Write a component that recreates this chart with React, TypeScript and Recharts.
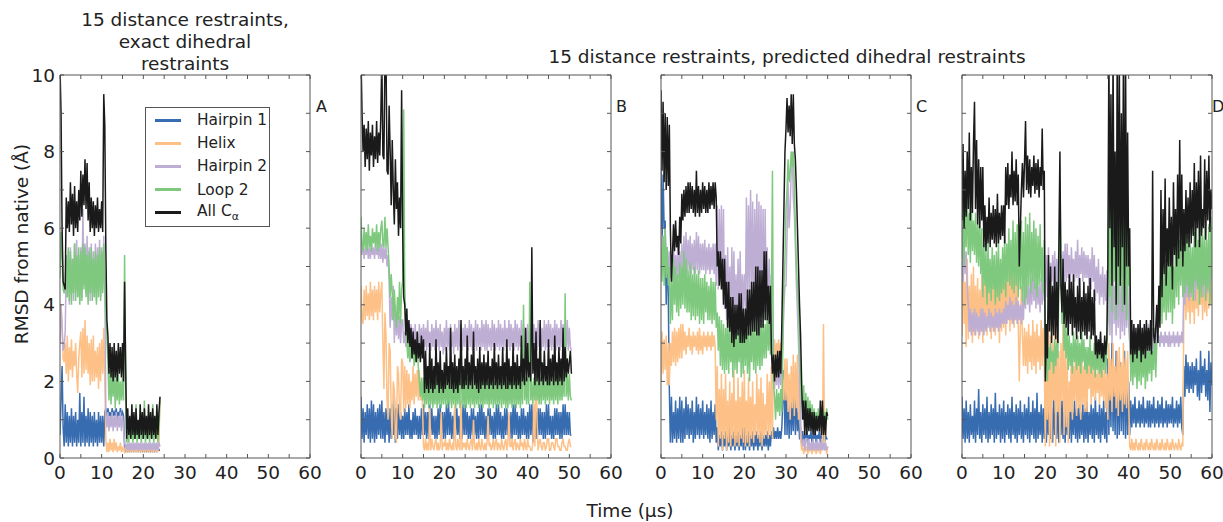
import { Line, LineChart, XAxis, YAxis } from "recharts";

// sampling interval of the traces, in µs
const STEP_US = 0.25;

const X_TICKS = [0, 5, 10, 15, 20, 25, 30, 35, 40, 45, 50, 55, 60];
const Y_TICKS = [0, 1, 2, 3, 4, 5, 6, 7, 8, 9, 10];

const SERIES = [
  { key: "hairpin1", name: "Hairpin 1", color: "#386cb0" },
  { key: "helix", name: "Helix", color: "#fdc086" },
  { key: "hairpin2", name: "Hairpin 2", color: "#beaed4" },
  { key: "loop2", name: "Loop 2", color: "#7fc97f" },
  { key: "all", name: "All C", color: "#1a1a1a" },
];

// ---- panel A: exact dihedral restraints (0–24 µs), one row = 5 µs
const A_HAIRPIN1 = [
  0.6, 1.5, 2.4, 0.8, 0.3, 1.4, 0.4, 1.2, 0.3, 1.1, 0.4, 1.3, 0.3, 1.1, 0.4, 1.2, 0.3, 1.0, 0.4, 1.7,
  0.3, 1.2, 0.4, 1.6, 0.3, 1.1, 0.4, 1.3, 0.3, 1.2, 0.4, 1.1, 0.3, 1.2, 0.4, 1.0, 0.3, 1.2, 0.4, 1.1,
  0.4, 1.1, 0.3, 1.2, 1.3, 1.0, 1.3, 1.1, 1.2, 1.0, 1.3, 1.1, 1.2, 1.1, 1.3, 1.0, 1.2, 1.1, 1.3, 1.1,
  1.2, 1.1, 0.3, 0.2, 0.3, 0.2, 0.3, 0.2, 0.3, 0.2, 0.3, 0.2, 0.3, 0.2, 0.3, 0.2, 0.3, 0.2, 0.3, 0.2,
  0.3, 0.2, 0.3, 0.2, 0.3, 0.2, 0.3, 0.2, 0.3, 0.2, 0.3, 0.2, 0.3, 0.2, 0.3, 0.2, 0.2,
];
const A_HELIX = [
  3.3, 4.0, 3.5, 2.6, 2.5, 3.0, 2.2, 3.2, 2.0, 2.9, 2.3, 3.1, 2.1, 2.8, 2.4, 3.0, 2.2, 1.7, 2.6, 3.0,
  3.3, 2.1, 3.4, 2.2, 3.6, 2.3, 3.2, 2.2, 3.0, 1.9, 3.1, 2.0, 3.2, 2.0, 2.8, 2.1, 2.9, 1.8, 3.0, 2.0,
  3.1, 2.2, 3.4, 2.0, 0.5, 0.15, 0.4, 0.15, 0.5, 0.2, 0.4, 0.15, 0.5, 0.2, 0.4, 0.15, 0.3, 0.2, 0.4, 0.15,
  0.3, 0.2, 0.15, 0.35, 0.15, 0.3, 0.15, 0.35, 0.15, 0.3, 0.15, 0.35, 0.15, 0.3, 0.15, 0.35, 0.15, 0.3, 0.15, 0.35,
  0.15, 0.3, 0.15, 0.35, 0.15, 0.3, 0.15, 0.35, 0.15, 0.3, 0.15, 0.35, 0.15, 0.3, 0.15, 0.35, 1.6,
];
const A_HAIRPIN2 = [
  3.0, 4.0, 3.4, 2.8, 2.9, 3.3, 5.0, 4.2, 5.4, 4.0, 5.5, 4.3, 5.2, 4.1, 5.6, 4.4, 5.7, 4.2, 5.3, 4.1,
  5.5, 4.2, 6.5, 4.5, 5.6, 4.3, 5.8, 4.2, 5.5, 4.1, 5.6, 4.3, 5.4, 4.2, 5.6, 4.1, 5.5, 4.4, 5.7, 4.2,
  5.5, 4.4, 5.8, 4.6, 1.2, 0.8, 1.2, 0.7, 1.1, 0.8, 1.2, 0.7, 1.1, 0.8, 1.2, 0.7, 1.1, 0.8, 1.2, 0.7,
  1.1, 0.8, 0.4, 0.3, 0.2, 0.4, 0.2, 0.4, 0.2, 0.4, 0.2, 0.4, 0.2, 0.4, 0.2, 0.4, 0.2, 0.4, 0.2, 0.4,
  0.2, 0.4, 0.2, 0.4, 0.2, 0.4, 0.2, 0.4, 0.2, 0.4, 0.2, 0.4, 0.2, 0.4, 0.2, 0.4, 0.3,
];
const A_LOOP2 = [
  4.7, 5.9, 5.2, 4.4, 4.3, 4.5, 5.3, 4.2, 5.5, 4.1, 5.4, 4.0, 5.2, 4.3, 5.6, 4.1, 5.3, 4.2, 5.5, 4.0,
  5.4, 4.1, 5.6, 4.4, 5.5, 4.2, 5.3, 4.0, 5.4, 4.3, 5.5, 4.1, 5.2, 4.2, 5.4, 4.0, 5.3, 4.2, 5.5, 4.1,
  5.4, 4.3, 5.6, 4.4, 3.6, 3.2, 2.5, 1.5, 2.3, 1.4, 2.2, 1.6, 2.3, 1.3, 2.1, 1.5, 2.2, 1.4, 2.0, 1.5,
  2.1, 1.5, 5.3, 2.0, 0.4, 0.7, 0.4, 0.8, 0.5, 1.0, 0.4, 0.7, 0.5, 1.4, 0.4, 0.8, 0.5, 0.9, 0.4, 0.7,
  0.5, 1.5, 0.4, 0.8, 0.5, 1.0, 0.4, 0.9, 0.5, 1.4, 0.4, 0.8, 0.5, 1.2, 0.4, 0.8, 1.5,
];
const A_ALL = [
  10.2, 9.0, 6.0, 4.6, 4.5, 4.4, 6.8, 6.0, 6.7, 5.9, 7.2, 6.1, 6.9, 5.8, 7.1, 6.0, 6.7, 5.9, 7.0, 6.2,
  7.5, 6.3, 7.4, 6.6, 7.8, 6.5, 7.7, 6.2, 7.2, 5.9, 6.8, 6.0, 6.7, 5.8, 6.6, 6.0, 6.8, 5.9, 6.5, 6.0,
  6.7, 5.9, 9.5, 8.7, 5.5, 3.6, 3.2, 2.2, 3.0, 2.1, 2.9, 2.0, 3.0, 2.1, 2.8, 2.0, 3.0, 2.2, 2.9, 2.1,
  3.0, 2.0, 4.6, 2.5, 0.5, 1.3, 0.6, 1.1, 0.5, 1.4, 0.6, 1.2, 0.5, 1.3, 0.6, 1.0, 0.5, 1.4, 0.6, 1.2,
  0.5, 1.3, 0.6, 1.1, 0.5, 1.4, 0.6, 1.2, 0.5, 1.3, 0.6, 1.1, 0.5, 1.4, 0.6, 1.2, 1.6,
];

// ---- panel B (0–50.5 µs)
const B_HAIRPIN1 = [
  1.6, 0.5, 1.3, 0.4, 1.2, 0.6, 1.4, 0.5, 1.3, 0.4, 1.5, 0.5, 1.4, 0.4, 1.2, 0.5, 1.3, 0.6, 1.4, 0.5,
  1.5, 0.5, 1.2, 0.4, 1.3, 0.6, 1.2, 0.4, 1.3, 0.5, 1.4, 0.6, 1.6, 0.4, 1.3, 0.5, 1.4, 0.6, 1.2, 0.5,
  1.1, 0.5, 1.3, 0.6, 1.2, 0.6, 1.4, 0.5, 1.0, 0.5, 1.2, 0.6, 1.3, 0.6, 1.1, 0.5, 1.1, 0.5, 1.3, 0.6,
  1.4, 0.6, 1.2, 0.5, 1.2, 0.5, 1.4, 0.6, 1.3, 0.6, 1.1, 0.5, 1.1, 0.5, 1.3, 0.6, 1.4, 0.6, 1.2, 0.5,
  1.2, 0.5, 1.4, 0.6, 1.5, 0.6, 1.2, 0.5, 1.1, 0.5, 1.3, 0.6, 1.3, 0.6, 1.1, 0.5, 1.2, 0.5, 1.4, 0.6,
  1.4, 0.6, 1.2, 0.5, 1.1, 0.5, 1.3, 0.6, 1.3, 0.6, 1.1, 0.5, 1.2, 0.5, 1.4, 0.6, 1.4, 0.6, 1.2, 0.5,
  1.1, 0.5, 1.3, 0.6, 1.3, 0.6, 1.1, 0.5, 1.2, 0.5, 1.4, 0.6, 1.4, 0.6, 1.2, 0.5, 1.1, 0.5, 1.3, 0.6,
  1.3, 0.6, 1.1, 0.5, 1.2, 0.5, 1.4, 0.6, 1.4, 0.6, 1.2, 0.5, 1.1, 0.5, 1.3, 0.6, 1.3, 0.6, 1.1, 0.5,
  1.2, 0.5, 1.4, 0.6, 1.4, 0.4, 1.2, 0.5, 1.2, 0.5, 1.3, 0.6, 1.3, 0.6, 1.2, 0.5, 1.2, 0.5, 1.4, 0.6,
  1.4, 0.6, 1.1, 0.5, 1.1, 0.5, 1.3, 0.6, 1.3, 0.6, 1.2, 0.5, 1.2, 0.5, 1.4, 0.6, 1.4, 0.6, 1.2, 0.6,
  1.2, 0.6, 0.6,
];
const B_HELIX = [
  4.5, 3.6, 3.5, 4.4, 3.6, 4.5, 3.7, 4.3, 3.6, 4.6, 3.7, 4.4, 3.6, 4.5, 3.8, 4.4, 3.6, 4.6, 3.8, 4.3,
  4.6, 3.0, 1.8, 3.8, 3.2, 1.5, 1.0, 3.0, 2.8, 1.2, 0.5, 2.0, 1.8, 0.6, 0.4, 2.4, 2.2, 1.2, 1.0, 2.6,
  2.5, 1.2, 2.4, 1.3, 2.3, 1.4, 2.2, 1.3, 2.0, 1.5, 2.4, 1.4, 2.2, 1.6, 2.3, 1.5, 2.3, 1.5, 2.0, 1.4,
  0.3, 0.2, 0.5, 0.2, 0.4, 0.2, 1.3, 0.2, 0.5, 0.3, 0.2, 0.4, 0.5, 0.2, 0.4, 0.2, 0.3, 1.2, 0.2, 0.4,
  0.3, 0.5, 0.2, 0.4, 0.2, 0.5, 0.3, 0.2, 0.4, 0.2, 1.4, 0.3, 0.2, 0.5, 0.3, 0.2, 1.5, 0.2, 0.4, 0.3,
  0.4, 0.2, 0.5, 0.3, 0.2, 0.4, 0.5, 0.2, 1.0, 0.3, 0.2, 0.4, 0.2, 0.5, 0.3, 0.2, 0.5, 0.3, 0.2, 0.4,
  0.2, 0.4, 1.1, 0.3, 0.4, 0.2, 0.3, 0.5, 0.2, 0.4, 0.5, 0.2, 0.4, 0.3, 0.2, 0.5, 0.3, 0.2, 0.4, 0.5,
  0.2, 0.4, 1.2, 0.3, 0.3, 0.5, 0.2, 0.4, 0.5, 0.2, 0.4, 0.3, 0.2, 0.5, 0.3, 0.4, 0.2, 0.5, 0.3, 0.2,
  0.5, 0.3, 0.3, 0.2, 0.2, 0.4, 1.4, 0.3, 3.3, 1.0, 0.2, 0.4, 0.5, 0.3, 0.2, 0.4, 0.4, 0.2, 0.3, 0.5,
  0.5, 0.2, 0.2, 0.4, 0.4, 0.3, 0.2, 0.5, 0.5, 0.3, 0.3, 0.2, 0.2, 0.4, 0.5, 0.3, 0.3, 0.2, 0.2, 0.4,
  0.5, 0.3, 0.3,
];
const B_HAIRPIN2 = [
  5.8, 5.3, 5.6, 5.2, 5.5, 5.3, 5.6, 5.2, 5.5, 5.2, 5.6, 5.3, 5.5, 5.2, 5.6, 5.3, 5.5, 5.2, 5.6, 5.2,
  5.6, 5.1, 5.5, 5.2, 5.5, 5.0, 5.3, 4.6, 3.4, 4.2, 3.6, 4.5, 3.0, 4.0, 3.2, 3.8, 3.1, 3.7, 3.0, 3.6,
  3.6, 3.0, 3.3, 2.9, 3.5, 2.9, 3.4, 2.8, 3.5, 2.9, 3.4, 2.8, 3.5, 2.9, 3.3, 2.8, 3.5, 2.9, 3.4, 2.8,
  3.5, 2.9, 3.4, 2.8, 3.6, 2.9, 3.3, 2.8, 3.5, 2.9, 3.4, 2.8, 3.6, 2.9, 3.4, 2.8, 3.5, 2.9, 3.3, 2.7,
  3.4, 2.8, 3.6, 2.9, 3.4, 2.8, 3.5, 2.9, 3.3, 2.7, 3.5, 2.9, 3.4, 2.8, 3.6, 2.9, 3.5, 2.8, 3.4, 2.9,
  3.5, 2.9, 3.4, 2.8, 3.6, 2.9, 3.5, 2.8, 3.4, 2.9, 3.6, 2.8, 3.5, 2.9, 3.4, 2.8, 3.6, 2.9, 3.5, 2.8,
  3.6, 2.8, 3.5, 2.9, 3.4, 2.8, 3.6, 2.9, 3.5, 2.8, 3.4, 2.9, 3.6, 2.8, 3.5, 2.9, 3.4, 2.8, 3.6, 2.9,
  3.4, 2.9, 3.6, 2.8, 3.5, 2.9, 3.4, 2.8, 3.6, 2.9, 3.5, 2.8, 3.4, 2.9, 3.6, 2.8, 3.5, 2.9, 3.4, 2.8,
  3.5, 2.8, 3.4, 2.9, 3.6, 2.8, 3.5, 2.9, 3.4, 2.8, 3.6, 2.9, 3.5, 2.8, 3.4, 2.9, 3.6, 2.8, 3.5, 2.9,
  3.6, 2.9, 3.5, 2.8, 3.4, 2.9, 3.6, 2.8, 3.5, 2.9, 3.4, 2.8, 3.6, 2.9, 3.5, 2.8, 3.4, 2.9, 3.6, 2.8,
  3.4, 2.9, 2.8,
];
const B_LOOP2 = [
  6.3, 5.6, 5.4, 6.0, 5.5, 5.9, 5.4, 6.1, 5.5, 5.8, 5.4, 6.0, 5.6, 5.9, 5.5, 6.1, 5.4, 5.9, 5.5, 6.0,
  6.2, 5.6, 5.5, 6.3, 5.5, 6.0, 5.5, 5.0, 4.2, 4.8, 4.3, 3.6, 4.4, 3.8, 3.4, 4.2, 3.6, 4.6, 3.5, 4.4,
  4.6, 9.1, 4.5, 3.5, 3.0, 2.6, 3.0, 2.5, 2.9, 2.6, 3.0, 2.4, 2.9, 2.5, 2.8, 2.4, 2.0, 1.6, 2.1, 1.5,
  2.1, 1.3, 2.0, 1.4, 2.2, 1.3, 2.0, 1.4, 2.1, 1.3, 1.9, 1.4, 2.2, 1.3, 2.0, 1.4, 2.1, 1.3, 2.0, 1.4,
  2.0, 1.4, 2.1, 1.3, 1.9, 1.4, 2.2, 1.3, 2.0, 1.4, 2.1, 1.3, 2.0, 1.4, 2.2, 1.3, 3.5, 1.4, 2.0, 1.3,
  2.0, 1.3, 2.1, 1.4, 2.0, 1.3, 2.2, 1.4, 1.9, 1.3, 2.1, 1.4, 2.0, 1.3, 2.2, 1.4, 2.0, 1.3, 2.1, 1.4,
  2.1, 1.4, 2.0, 1.3, 2.1, 1.4, 2.2, 1.3, 2.0, 1.4, 2.1, 1.3, 2.0, 1.4, 2.2, 1.3, 2.1, 1.4, 2.0, 1.3,
  2.0, 1.3, 2.1, 1.4, 2.0, 1.3, 2.2, 1.4, 2.0, 1.3, 2.1, 1.4, 2.0, 1.3, 2.2, 1.4, 4.0, 1.5, 2.1, 1.4,
  2.1, 1.4, 4.6, 1.5, 2.0, 1.4, 2.1, 1.5, 2.2, 1.5, 2.0, 1.4, 2.1, 1.4, 2.2, 1.5, 2.0, 1.4, 2.1, 1.5,
  2.2, 1.4, 2.1, 1.5, 2.0, 1.4, 2.2, 1.5, 2.1, 1.4, 2.3, 1.5, 2.0, 1.5, 2.2, 1.6, 4.3, 1.6, 2.2, 1.5,
  2.2, 1.6, 1.5,
];
const B_ALL = [
  10.5, 9.0, 8.0, 8.7, 7.6, 8.6, 7.8, 8.8, 7.5, 8.5, 7.9, 8.7, 7.6, 8.4, 7.8, 8.8, 7.7, 8.5, 7.9, 8.9,
  10.5, 7.9, 7.8, 10.5, 10.5, 7.5, 7.4, 9.2, 8.0, 6.6, 8.3, 7.0, 6.1, 7.8, 6.5, 7.2, 5.8, 6.8, 6.0, 9.6,
  6.0, 4.2, 4.0, 3.2, 3.9, 3.0, 3.6, 2.9, 3.4, 2.6, 3.3, 2.7, 3.1, 2.5, 3.3, 2.6, 3.0, 2.5, 3.2, 2.6,
  3.1, 1.7, 2.8, 1.8, 2.4, 1.7, 3.0, 1.8, 2.6, 1.7, 2.4, 1.8, 3.1, 1.9, 2.5, 1.7, 2.8, 1.8, 2.3, 1.7,
  2.5, 1.8, 2.9, 1.9, 2.4, 1.8, 3.4, 1.8, 2.5, 1.7, 2.7, 1.8, 2.4, 1.7, 2.6, 1.9, 3.6, 1.8, 2.4, 1.8,
  2.6, 1.9, 3.2, 1.8, 2.5, 1.9, 2.7, 1.8, 3.3, 1.9, 2.4, 1.8, 2.6, 1.7, 2.9, 1.8, 2.5, 1.9, 2.7, 1.8,
  2.5, 1.9, 2.8, 1.8, 2.4, 1.9, 2.6, 1.8, 3.0, 1.9, 2.5, 1.8, 2.7, 1.9, 2.4, 1.8, 2.9, 1.9, 2.5, 1.8,
  3.1, 1.8, 2.6, 1.9, 2.4, 1.8, 3.0, 1.9, 2.5, 1.8, 2.7, 1.9, 2.4, 1.8, 3.2, 2.0, 2.6, 1.9, 3.4, 2.0,
  3.0, 2.1, 2.5, 2.0, 5.5, 2.2, 3.0, 1.9, 3.3, 2.0, 2.6, 1.9, 3.6, 2.0, 2.5, 1.9, 2.8, 2.0, 2.4, 1.9,
  3.1, 1.9, 2.6, 2.0, 2.7, 1.9, 3.2, 2.0, 2.5, 1.9, 2.9, 2.0, 2.6, 1.9, 3.4, 2.0, 2.9, 2.1, 2.6, 2.2,
  2.5, 2.8, 2.2,
];

// ---- panel C (0–40 µs)
const C_HAIRPIN1 = [
  7.6, 5.5, 7.4, 6.0, 6.2, 4.0, 5.5, 4.2, 1.8, 0.4, 1.6, 0.4, 1.2, 0.5, 1.5, 0.4, 1.3, 0.5, 1.6, 0.4,
  1.5, 0.4, 1.3, 0.5, 1.6, 0.6, 1.4, 0.5, 1.3, 0.6, 1.5, 0.4, 1.2, 0.5, 1.6, 0.6, 1.4, 0.5, 1.3, 0.6,
  1.5, 0.5, 1.2, 0.6, 1.4, 0.5, 1.3, 0.4, 1.5, 0.5, 1.2, 0.6, 1.4, 0.4, 0.8, 0.2, 0.6, 0.3, 0.7, 0.2,
  0.6, 0.3, 0.7, 0.2, 0.6, 0.3, 0.8, 0.2, 0.6, 0.3, 0.7, 0.2, 0.6, 0.3, 0.7, 0.2, 0.6, 0.3, 0.8, 0.2,
  0.8, 0.2, 0.6, 0.3, 0.7, 0.2, 0.6, 0.3, 0.7, 0.2, 0.6, 0.3, 0.7, 0.2, 0.6, 0.3, 0.7, 0.2, 0.6, 0.3,
  0.6, 0.3, 0.7, 0.2, 0.6, 0.3, 0.7, 0.5, 0.8, 0.5, 0.7, 0.5, 0.8, 0.5, 0.7, 0.5, 0.8, 1.5, 2.3, 0.6,
  2.3, 0.6, 1.8, 0.5, 2.0, 0.6, 1.5, 0.7, 2.1, 0.6, 1.6, 0.7, 1.2, 0.5, 0.5, 0.4, 0.7, 0.4, 0.6, 0.5,
  0.7, 0.4, 0.6, 0.5, 0.7, 0.4, 0.6, 0.5, 0.7, 0.4, 0.6, 0.5, 0.7, 0.4, 0.6, 0.5, 0.7, 0.4, 0.6, 0.5,
  0.5,
];
const C_HELIX = [
  2.0, 3.3, 2.2, 3.1, 2.3, 3.2, 1.9, 3.0, 1.9, 3.0, 2.4, 3.3, 2.5, 3.4, 2.4, 3.3, 2.5, 3.4, 2.6, 3.5,
  2.6, 3.5, 2.8, 3.3, 2.7, 3.2, 2.9, 3.4, 2.8, 3.2, 2.7, 3.3, 2.9, 3.2, 2.8, 3.3, 2.7, 3.4, 2.8, 3.2,
  2.7, 3.3, 2.9, 3.2, 2.8, 3.3, 2.9, 3.2, 2.8, 3.3, 2.9, 3.2, 2.9, 1.0, 2.4, 0.3, 1.8, 0.5, 2.2, 0.2,
  1.8, 0.5, 2.2, 0.2, 1.5, 0.4, 2.0, 0.3, 1.7, 0.5, 2.3, 0.3, 1.5, 0.4, 2.1, 0.3, 1.6, 0.5, 2.0, 0.4,
  2.3, 0.3, 1.5, 0.4, 2.1, 0.3, 1.6, 0.5, 2.0, 0.4, 1.4, 0.6, 2.2, 0.5, 1.8, 0.4, 2.1, 0.3, 1.7, 0.5,
  1.4, 0.6, 2.2, 0.5, 2.0, 0.6, 2.4, 0.5, 2.7, 3.1, 2.6, 3.0, 2.8, 3.1, 2.6, 3.0, 2.8, 2.0, 1.5, 2.6,
  1.5, 2.6, 1.2, 2.2, 1.0, 2.4, 1.3, 2.7, 1.1, 2.5, 1.3, 2.7, 1.0, 2.2, 0.5, 0.2, 0.3, 0.1, 0.3, 0.2,
  0.3, 0.1, 0.3, 0.2, 0.3, 0.1, 0.3, 0.2, 0.3, 0.1, 0.3, 0.2, 0.3, 0.1, 0.3, 0.2, 3.5, 0.2, 0.3, 0.1,
  0.3,
];
const C_HAIRPIN2 = [
  6.0, 5.2, 5.8, 5.0, 5.7, 5.1, 5.4, 4.8, 5.4, 4.7, 5.0, 4.6, 5.6, 4.8, 5.3, 4.6, 5.5, 4.7, 5.4, 4.6,
  5.6, 4.7, 5.8, 4.8, 5.9, 4.8, 5.7, 4.9, 5.8, 4.8, 5.6, 4.9, 5.7, 4.8, 5.9, 4.9, 5.8, 4.8, 5.6, 4.9,
  5.6, 4.9, 5.7, 4.8, 5.5, 4.9, 5.6, 4.8, 5.5, 4.9, 5.6, 4.8, 5.6, 4.5, 6.6, 4.4, 6.5, 4.6, 6.6, 4.4,
  6.5, 3.9, 5.3, 3.6, 5.5, 3.7, 5.0, 3.7, 5.5, 3.8, 5.4, 3.5, 4.8, 3.6, 5.2, 3.8, 5.4, 3.5, 4.8, 3.9,
  4.8, 3.9, 6.8, 4.0, 6.6, 4.3, 7.0, 4.2, 6.7, 4.0, 6.5, 4.3, 6.9, 4.2, 6.7, 4.0, 6.6, 4.1, 6.5, 3.8,
  6.5, 3.8, 5.5, 3.6, 5.2, 3.0, 4.8, 3.0, 2.5, 1.8, 2.4, 1.9, 2.5, 1.8, 2.4, 1.9, 2.5, 3.0, 4.0, 4.5,
  4.5, 5.8, 7.2, 6.0, 6.5, 7.5, 8.0, 6.8, 6.4, 5.5, 4.5, 3.8, 3.0, 2.0, 1.0, 0.5, 0.3, 0.5, 0.2, 0.5,
  0.5, 0.2, 0.5, 0.2, 0.4, 0.2, 0.5, 0.2, 0.4, 0.2, 0.5, 0.2, 0.4, 0.2, 0.5, 0.2, 0.4, 0.2, 0.4, 0.2,
  0.3,
];
const C_LOOP2 = [
  5.5, 4.6, 5.8, 4.5, 6.0, 4.7, 5.5, 4.5, 5.0, 3.5, 4.6, 3.6, 5.2, 4.0, 5.0, 3.8, 4.8, 3.7, 5.1, 3.9,
  5.0, 4.0, 5.4, 3.9, 5.2, 3.8, 4.9, 3.8, 5.1, 3.6, 4.8, 3.7, 5.0, 3.6, 4.8, 3.7, 4.9, 3.5, 4.7, 3.6,
  4.7, 3.5, 4.8, 3.8, 4.6, 3.6, 4.5, 3.6, 4.7, 3.5, 4.6, 3.6, 4.6, 3.4, 3.8, 2.8, 3.7, 2.4, 3.6, 2.3,
  3.5, 2.2, 3.4, 2.3, 3.8, 2.2, 3.4, 2.5, 3.3, 2.1, 3.5, 2.3, 3.4, 2.2, 3.3, 2.5, 3.6, 2.1, 3.4, 2.2,
  3.5, 2.4, 3.6, 2.2, 3.3, 2.0, 3.4, 2.5, 3.6, 2.3, 3.5, 2.2, 3.4, 2.4, 3.5, 2.3, 3.6, 2.4, 3.5, 2.6,
  3.5, 2.6, 3.8, 2.8, 3.6, 2.7, 4.0, 7.5, 2.0, 1.6, 1.0, 1.8, 1.2, 1.7, 1.1, 1.8, 1.2, 3.0, 4.5, 5.2,
  6.5, 7.0, 7.8, 7.2, 7.5, 8.0, 7.6, 8.0, 7.2, 6.0, 5.0, 4.5, 4.0, 3.0, 2.0, 1.5, 1.2, 1.9, 0.8, 1.7,
  0.8, 1.6, 0.9, 1.5, 0.8, 1.4, 0.9, 1.3, 0.8, 1.2, 0.9, 1.3, 0.8, 1.2, 0.9, 1.3, 0.8, 1.2, 0.9, 1.3,
  1.0,
];
const C_ALL = [
  9.6, 7.5, 9.3, 7.2, 9.0, 7.0, 8.9, 7.1, 8.7, 6.0, 4.6, 5.3, 6.1, 5.4, 6.2, 5.5, 5.8, 5.3, 6.3, 5.6,
  6.9, 6.2, 7.0, 6.3, 7.1, 6.4, 7.2, 6.4, 7.2, 6.5, 7.1, 6.4, 7.0, 6.3, 7.5, 6.4, 7.1, 6.3, 7.0, 6.4,
  7.2, 6.5, 7.1, 6.4, 7.0, 6.4, 7.2, 6.5, 7.1, 6.6, 7.2, 6.5, 7.2, 6.8, 5.0, 5.4, 4.5, 5.4, 4.4, 5.2,
  4.0, 5.2, 3.9, 4.6, 3.4, 4.6, 3.3, 4.2, 3.0, 4.2, 2.9, 4.0, 3.1, 4.0, 3.2, 4.3, 3.0, 4.3, 3.0, 3.9,
  3.0, 3.9, 3.1, 4.4, 3.2, 4.4, 3.2, 4.6, 3.3, 4.6, 3.3, 5.0, 3.2, 5.0, 3.2, 4.9, 3.4, 4.9, 3.4, 5.4,
  3.6, 5.4, 3.6, 4.5, 3.5, 4.5, 2.8, 2.2, 2.7, 2.0, 2.7, 2.1, 2.8, 2.1, 2.8, 2.2, 3.5, 5.0, 6.5, 8.0,
  8.6, 9.4, 8.5, 9.2, 8.4, 9.5, 8.2, 9.5, 8.2, 7.8, 7.0, 6.0, 5.0, 4.0, 3.2, 2.0, 1.0, 1.5, 0.6, 1.5,
  0.6, 1.3, 0.7, 1.3, 0.7, 1.2, 0.6, 1.2, 0.6, 1.1, 0.7, 1.1, 0.7, 1.5, 0.6, 1.5, 0.6, 1.1, 0.6, 1.2,
  1.1,
];

// ---- panel D (0–60 µs)
const D_HAIRPIN1 = [
  1.6, 0.5, 1.3, 0.4, 1.5, 0.5, 1.2, 0.4, 1.4, 0.6, 1.1, 0.5, 1.5, 0.4, 1.3, 0.6, 1.8, 0.5, 1.2, 0.4,
  1.4, 0.6, 1.3, 0.5, 1.6, 0.4, 1.2, 0.5, 1.4, 0.6, 1.3, 0.4, 1.7, 0.5, 1.2, 0.6, 1.4, 0.4, 1.3, 0.5,
  1.5, 0.4, 1.2, 0.6, 1.4, 0.5, 1.3, 0.4, 1.6, 0.6, 1.2, 0.5, 1.4, 0.4, 1.3, 0.6, 1.5, 0.5, 1.2, 0.4,
  1.4, 0.6, 1.3, 0.5, 1.6, 0.4, 1.2, 0.6, 1.5, 0.5, 1.3, 0.4, 1.7, 0.5, 1.2, 0.6, 1.4, 0.4, 1.3, 0.5,
  1.5, 0.4, 1.2, 0.6, 1.4, 0.5, 1.3, 0.4, 1.6, 0.6, 1.2, 0.5, 1.4, 0.4, 1.3, 0.6, 1.5, 0.5, 1.2, 0.4,
  1.4, 0.6, 1.3, 0.5, 1.6, 0.4, 1.2, 0.6, 1.5, 0.5, 1.3, 0.4, 1.4, 0.5, 1.2, 0.6, 1.4, 0.4, 1.3, 0.5,
  1.5, 0.4, 1.2, 0.6, 1.4, 0.5, 1.3, 0.4, 1.6, 0.6, 1.2, 0.5, 1.4, 0.4, 1.3, 0.6, 1.5, 0.5, 1.2, 0.4,
  2.6, 0.6, 2.4, 0.8, 3.0, 0.7, 2.2, 0.6, 2.8, 0.5, 2.0, 0.6, 2.5, 0.7, 2.3, 0.6, 2.8, 0.5, 2.1, 0.6,
  2.0, 0.6, 1.5, 0.8, 1.4, 0.9, 1.6, 0.8, 1.3, 0.9, 1.5, 0.8, 1.4, 0.9, 1.6, 0.8, 1.3, 0.9, 1.5, 0.8,
  1.5, 0.8, 1.4, 0.9, 1.6, 0.8, 1.3, 0.9, 1.5, 0.8, 1.4, 0.9, 1.6, 0.8, 1.3, 0.9, 1.5, 0.8, 1.4, 0.9,
  1.4, 0.9, 1.6, 0.8, 1.3, 0.9, 1.5, 0.8, 1.4, 0.9, 1.6, 0.8, 0.6, 2.4, 1.6, 2.7, 1.8, 2.5, 1.7, 2.4,
  1.8, 2.5, 1.7, 2.4, 1.9, 2.6, 1.6, 2.3, 1.5, 2.8, 1.7, 2.4, 1.9, 2.6, 1.6, 2.3, 1.5, 2.8, 1.2, 2.5,
  1.9,
];
const D_HELIX = [
  3.2, 5.5, 3.5, 4.6, 2.9, 5.2, 3.1, 4.5, 3.3, 4.8, 3.0, 5.0, 3.2, 4.5, 3.4, 4.7, 3.1, 4.4, 3.3, 4.8,
  3.0, 4.6, 3.4, 5.0, 3.2, 4.7, 3.5, 4.4, 3.1, 4.9, 3.3, 4.6, 3.2, 4.8, 3.4, 4.5, 3.0, 4.7, 3.3, 4.9,
  3.4, 4.6, 3.2, 4.8, 3.6, 5.2, 3.3, 5.0, 3.5, 4.7, 3.4, 5.1, 3.6, 4.9, 3.5, 2.0, 3.4, 4.5, 3.2, 2.4,
  3.4, 2.4, 3.3, 2.2, 3.5, 2.5, 3.2, 2.3, 3.6, 2.4, 3.3, 2.2, 3.5, 2.5, 3.2, 2.3, 3.6, 2.4, 3.4, 2.5,
  0.3, 2.5, 1.0, 3.4, 0.3, 3.2, 0.4, 3.0, 1.5, 3.5, 0.3, 3.2, 1.2, 2.8, 0.4, 3.0, 1.5, 3.5, 0.6, 2.9,
  0.8, 2.6, 0.4, 2.0, 1.2, 2.8, 1.0, 2.4, 1.5, 2.9, 1.1, 2.6, 1.3, 2.5, 1.0, 2.7, 1.4, 2.4, 1.2, 2.8,
  1.2, 2.5, 1.8, 2.7, 1.4, 2.3, 1.6, 2.6, 1.5, 2.2, 1.7, 2.5, 1.4, 2.6, 1.6, 2.3, 1.5, 2.4, 1.3, 2.2,
  1.0, 3.0, 1.5, 2.6, 1.2, 3.0, 1.6, 2.4, 1.3, 2.8, 1.1, 2.9, 1.5, 2.5, 1.2, 3.0, 1.4, 2.6, 1.3, 2.8,
  1.5, 0.3, 0.2, 0.5, 0.2, 0.4, 0.2, 0.5, 0.3, 0.2, 0.4, 0.2, 0.5, 0.3, 0.2, 0.4, 0.2, 0.5, 0.3, 0.2,
  0.4, 0.2, 0.5, 0.3, 0.2, 0.4, 0.2, 0.5, 0.3, 0.2, 0.4, 0.2, 0.5, 0.3, 0.2, 0.4, 0.2, 0.5, 0.3, 0.2,
  0.4, 0.2, 0.5, 0.3, 0.2, 0.4, 0.3, 0.2, 0.5, 0.3, 0.2, 0.4, 0.3, 4.0, 4.5, 3.6, 5.0, 3.8, 4.6, 3.5,
  5.0, 3.8, 4.6, 3.5, 5.2, 3.9, 4.4, 3.7, 5.5, 4.0, 4.8, 3.6, 5.1, 3.8, 4.5, 3.7, 5.3, 3.9, 4.6, 4.0,
  4.7,
];
const D_HAIRPIN2 = [
  5.8, 4.6, 5.6, 4.8, 5.4, 4.5, 4.0, 3.3, 3.9, 3.2, 3.8, 3.3, 3.9, 3.2, 3.8, 3.3, 3.7, 3.2, 3.9, 3.3,
  3.9, 3.2, 3.8, 3.3, 3.7, 3.4, 3.9, 3.3, 3.8, 3.4, 3.7, 3.3, 3.9, 3.4, 3.8, 3.3, 3.9, 3.4, 3.8, 3.5,
  3.9, 3.5, 4.1, 3.5, 4.0, 3.6, 4.2, 3.6, 4.1, 3.5, 4.0, 3.6, 4.2, 3.5, 4.1, 3.6, 4.0, 3.5, 4.1, 3.6,
  4.6, 3.9, 4.8, 4.0, 4.5, 3.8, 4.7, 4.0, 4.9, 4.1, 4.6, 3.9, 4.8, 4.0, 4.5, 3.8, 4.7, 4.0, 4.9, 4.1,
  4.5, 5.3, 4.2, 5.5, 4.4, 5.1, 4.6, 5.3, 4.5, 5.4, 4.3, 5.2, 4.6, 5.5, 4.4, 5.3, 4.5, 5.4, 4.6, 5.6,
  4.6, 5.6, 4.7, 5.3, 4.5, 5.5, 4.8, 5.2, 4.6, 5.4, 4.7, 5.7, 4.5, 5.3, 4.8, 5.5, 4.6, 5.4, 4.7, 5.3,
  4.7, 5.3, 4.5, 5.2, 4.4, 5.5, 4.6, 5.3, 4.1, 5.0, 4.3, 5.2, 4.0, 4.8, 4.2, 5.0, 4.0, 4.8, 4.1, 4.9,
  3.5, 5.0, 3.2, 4.8, 3.0, 5.2, 3.5, 4.5, 3.2, 4.7, 3.4, 5.0, 3.1, 4.6, 3.3, 4.8, 3.2, 4.5, 3.4, 4.7,
  3.4, 3.0, 2.4, 3.2, 2.5, 3.4, 2.4, 3.3, 2.6, 3.5, 2.5, 3.3, 2.4, 3.2, 2.6, 3.4, 2.5, 3.3, 2.4, 3.5,
  2.5, 3.2, 2.7, 3.4, 2.8, 3.3, 2.7, 3.5, 3.0, 3.2, 2.9, 3.3, 3.0, 3.2, 2.9, 3.3, 3.0, 3.2, 2.9, 3.3,
  2.9, 3.2, 3.0, 3.3, 2.9, 3.2, 3.0, 3.3, 2.9, 3.2, 3.0, 3.3, 3.0, 4.8, 4.0, 5.3, 4.2, 5.0, 4.1, 5.4,
  4.2, 5.0, 4.4, 5.5, 4.1, 5.2, 4.5, 5.4, 4.3, 5.0, 4.4, 5.3, 4.2, 5.5, 4.5, 5.1, 4.3, 5.4, 4.2, 5.0,
  4.6,
];
const D_LOOP2 = [
  5.2, 6.8, 5.0, 6.5, 5.5, 6.9, 5.3, 6.4, 5.1, 6.6, 5.4, 6.2, 5.3, 6.4, 5.1, 6.1, 5.0, 6.3, 4.8, 6.0,
  4.2, 5.6, 4.5, 5.4, 4.0, 5.6, 4.3, 5.2, 4.1, 5.5, 4.4, 5.3, 4.0, 5.4, 4.2, 5.6, 4.1, 5.2, 4.3, 5.5,
  4.4, 5.8, 4.2, 5.6, 4.6, 6.0, 4.5, 5.7, 4.4, 6.2, 4.3, 5.9, 4.5, 6.1, 4.2, 5.8, 4.4, 6.2, 4.1, 5.9,
  4.0, 6.3, 4.2, 6.1, 4.5, 6.4, 4.3, 5.9, 4.6, 6.2, 4.4, 6.0, 4.2, 5.8, 4.5, 6.1, 4.6, 5.5, 4.3, 5.7,
  2.1, 3.0, 2.0, 2.9, 2.3, 3.0, 2.5, 2.8, 2.2, 3.1, 2.4, 3.0, 2.6, 4.5, 7.3, 5.0, 3.5, 4.0, 2.8, 3.5,
  2.6, 3.4, 2.3, 3.2, 2.4, 3.0, 2.2, 3.3, 2.5, 3.1, 2.3, 3.2, 2.4, 3.0, 2.2, 3.3, 2.5, 3.1, 2.3, 2.9,
  2.2, 2.9, 2.4, 3.2, 2.2, 2.8, 2.3, 3.0, 2.1, 2.8, 2.3, 3.0, 2.2, 2.9, 2.1, 2.8, 2.3, 3.0, 2.2, 2.8,
  3.5, 7.5, 4.2, 7.0, 3.8, 8.0, 4.6, 7.5, 3.6, 7.2, 4.0, 7.8, 4.5, 6.5, 3.8, 7.4, 4.2, 7.0, 3.6, 6.8,
  4.5, 5.0, 2.0, 3.0, 1.9, 2.8, 2.1, 3.0, 1.8, 2.9, 2.0, 3.1, 1.9, 2.8, 2.1, 3.0, 1.8, 2.9, 2.0, 2.8,
  2.2, 3.1, 2.0, 2.8, 2.3, 3.4, 2.1, 3.0, 3.1, 4.5, 3.6, 5.0, 3.5, 4.8, 3.8, 5.2, 3.6, 5.0, 3.8, 5.5,
  3.8, 5.5, 3.5, 5.0, 3.9, 5.6, 4.2, 6.0, 4.0, 5.7, 4.5, 5.8, 4.2, 6.0, 4.3, 5.9, 4.5, 5.8, 4.2, 5.6,
  4.3, 5.5, 4.1, 5.9, 4.6, 6.1, 4.4, 5.7, 4.0, 6.3, 4.2, 5.8, 4.5, 6.0, 4.1, 5.7, 4.4, 6.1, 4.0, 6.3,
  4.8,
];
const D_ALL = [
  6.2, 8.2, 6.0, 7.5, 6.3, 8.0, 6.5, 8.5, 6.2, 7.6, 6.4, 8.2, 9.3, 6.5, 8.3, 6.1, 7.8, 6.0, 7.6, 6.2,
  7.6, 5.5, 6.6, 5.4, 6.3, 5.6, 6.8, 5.5, 6.4, 5.7, 6.6, 5.6, 6.5, 5.5, 6.9, 5.6, 6.4, 5.7, 6.6, 5.8,
  6.6, 5.6, 7.6, 6.6, 7.7, 6.5, 7.4, 6.8, 8.0, 6.6, 7.5, 6.7, 7.8, 6.6, 7.4, 5.0, 6.0, 7.0, 7.7, 6.8,
  7.7, 8.8, 7.0, 7.9, 6.9, 7.8, 6.8, 7.6, 7.1, 7.9, 6.9, 7.7, 7.0, 7.8, 6.8, 7.6, 7.1, 8.6, 7.0, 7.5,
  2.0, 3.5, 2.6, 5.3, 3.3, 5.0, 3.0, 4.5, 3.2, 5.0, 3.1, 4.6, 3.0, 5.5, 8.0, 4.5, 3.8, 5.2, 3.5, 4.6,
  3.4, 4.4, 3.2, 4.8, 3.5, 4.6, 3.2, 4.8, 3.4, 4.2, 3.1, 4.5, 3.3, 4.7, 3.1, 4.2, 3.3, 4.6, 3.2, 4.3,
  3.1, 4.5, 3.3, 4.7, 3.1, 4.2, 3.2, 4.4, 2.7, 3.2, 2.6, 3.1, 2.7, 3.3, 2.6, 3.0, 2.5, 3.2, 2.7, 3.1,
  5.0, 10.5, 6.0, 9.5, 4.5, 10.5, 5.5, 8.0, 4.0, 10.5, 5.0, 10.5, 4.5, 9.0, 5.5, 10.5, 4.0, 10.5, 5.0, 8.5,
  5.0, 6.0, 2.7, 3.6, 2.5, 3.5, 2.7, 3.4, 2.6, 3.5, 2.8, 3.6, 2.5, 3.4, 2.7, 3.5, 2.6, 3.6, 2.8, 3.4,
  2.8, 3.6, 2.7, 7.5, 3.2, 3.0, 3.4, 4.0, 3.0, 4.5, 3.4, 7.0, 4.2, 6.5, 4.8, 7.3, 4.5, 6.0, 5.0, 6.8,
  5.0, 6.3, 4.4, 7.2, 5.3, 6.5, 5.0, 7.4, 5.2, 8.3, 5.4, 7.4, 5.0, 6.5, 5.4, 7.0, 5.6, 6.8, 5.5, 7.2,
  5.6, 7.0, 5.8, 7.7, 5.5, 7.2, 6.0, 7.5, 5.5, 7.9, 5.8, 6.5, 6.0, 7.8, 5.7, 7.5, 6.2, 7.9, 5.9, 7.0,
  6.5,
];

const AXIS = "#555";
const TEXT = "#222";
const FONT = "'DejaVu Sans', sans-serif";
const TICK_FS = 18.5;

function buildRows(h1: number[], hx: number[], h2: number[], l2: number[], all: number[]) {
  const n = Math.max(h1.length, hx.length, h2.length, l2.length, all.length);
  const rows = [];
  for (let i = 0; i < n; i++) {
    rows.push({ t: i * STEP_US, hairpin1: h1[i], helix: hx[i], hairpin2: h2[i], loop2: l2[i], all: all[i] });
  }
  return rows;
}

const PANELS = [
  { letter: "A", left: 0, letterX: 316, showY: true, rows: buildRows(A_HAIRPIN1, A_HELIX, A_HAIRPIN2, A_LOOP2, A_ALL) },
  { letter: "B", left: 301, letterX: 315, showY: false, rows: buildRows(B_HAIRPIN1, B_HELIX, B_HAIRPIN2, B_LOOP2, B_ALL) },
  { letter: "C", left: 601, letterX: 315, showY: false, rows: buildRows(C_HAIRPIN1, C_HELIX, C_HAIRPIN2, C_LOOP2, C_ALL) },
  { letter: "D", left: 902, letterX: 310, showY: false, rows: buildRows(D_HAIRPIN1, D_HELIX, D_HAIRPIN2, D_LOOP2, D_ALL) },
];

// ticks point inward; labels only on majors
const BottomTick = ({ x, y, payload }: any) => (
  <g>
    <line x1={x} x2={x} y1={y} y2={y - 4} stroke={AXIS} />
    {payload.value % 10 === 0 && (
      <text x={x} y={y + 21} textAnchor="middle" fontSize={TICK_FS} fill={TEXT} fontFamily={FONT}>
        {payload.value}
      </text>
    )}
  </g>
);
const TopTick = ({ x, y }: any) => <line x1={x} x2={x} y1={y} y2={y + 4} stroke={AXIS} />;
const LeftTick = ({ x, y, payload, showLabel }: any) => (
  <g>
    <line x1={x} x2={x + 4} y1={y} y2={y} stroke={AXIS} />
    {showLabel && payload.value % 2 === 0 && (
      <text x={x - 5} y={y + 6.5} textAnchor="end" fontSize={TICK_FS} fill={TEXT} fontFamily={FONT}>
        {payload.value}
      </text>
    )}
  </g>
);
const RightTick = ({ x, y }: any) => <line x1={x} x2={x - 4} y1={y} y2={y} stroke={AXIS} />;

function Panel({ letter, left, letterX, showY, rows }: { letter: string; left: number; letterX: number; showY: boolean; rows: any[] }) {
  return (
    <div style={{ position: "absolute", left, top: 0 }}>
      <LineChart width={340} height={522} data={rows} margin={{ top: 74, right: 29, bottom: 63, left: 59 }}>
        <XAxis xAxisId="b" dataKey="t" type="number" domain={[0, 60]} ticks={X_TICKS} interval={0}
          allowDataOverflow height={1} tickSize={0} tickMargin={0} tickLine={false}
          axisLine={{ stroke: AXIS }} tick={<BottomTick />} />
        <XAxis xAxisId="t" orientation="top" dataKey="t" type="number" domain={[0, 60]} ticks={X_TICKS}
          interval={0} allowDataOverflow height={1} tickSize={0} tickMargin={0} tickLine={false}
          axisLine={{ stroke: AXIS }} tick={<TopTick />} />
        <YAxis yAxisId="l" type="number" domain={[0, 10]} ticks={Y_TICKS} interval={0} allowDataOverflow
          width={1} tickSize={0} tickMargin={0} tickLine={false} axisLine={{ stroke: AXIS }}
          tick={<LeftTick showLabel={showY} />} />
        <YAxis yAxisId="r" orientation="right" type="number" domain={[0, 10]} ticks={Y_TICKS} interval={0}
          allowDataOverflow width={1} tickSize={0} tickMargin={0} tickLine={false}
          axisLine={{ stroke: AXIS }} tick={<RightTick />} />
        {SERIES.map((s) => (
          <Line key={s.key} xAxisId="b" yAxisId="l" type="linear" dataKey={s.key} name={s.name}
            stroke={s.color} strokeWidth={1.5} dot={false} isAnimationActive={false} />
        ))}
      </LineChart>
      <div style={{ position: "absolute", left: letterX, top: 96, fontSize: 16, lineHeight: "22px", color: TEXT }}>
        {letter}
      </div>
    </div>
  );
}

export default function App() {
  return (
    <div style={{ position: "absolute", left: 0, top: 0, width: 1223, height: 522, background: "#fff",
      fontFamily: FONT, color: TEXT, overflow: "hidden" }}>
      {PANELS.map((p) => <Panel key={p.letter} {...p} />)}

      <div style={{ position: "absolute", left: 35, top: 9, width: 300, textAlign: "center", fontSize: 18.5, lineHeight: "22px" }}>
        15 distance restraints,<br />exact dihedral<br />restraints
      </div>
      <div style={{ position: "absolute", left: 487, top: 46, width: 600, textAlign: "center", fontSize: 18.5, lineHeight: "22px" }}>
        15 distance restraints, predicted dihedral restraints
      </div>
      <div style={{ position: "absolute", left: 530, top: 500, width: 200, textAlign: "center", fontSize: 18.5, lineHeight: "22px" }}>
        Time (µs)
      </div>
      <div style={{ position: "absolute", left: 22 - 150, top: 244 - 11, width: 300, textAlign: "center",
        fontSize: 18.5, lineHeight: "22px", transform: "rotate(-90deg)" }}>
        RMSD from native (Å)
      </div>

      <div style={{ position: "absolute", left: 145, top: 107, width: 125, height: 120, border: `1px solid ${AXIS}`,
        background: "#fff", boxSizing: "border-box", fontSize: 15.4 }}>
        {SERIES.map((s, i) => (
          <div key={s.key} style={{ position: "absolute", left: 9, top: 1 + i * 23.2, height: 22, display: "flex", alignItems: "center" }}>
            <span style={{ display: "inline-block", width: 26, height: 3, background: s.color, marginRight: 16 }} />
            <span>{s.name}{s.key === "all" && <sub style={{ fontSize: 11 }}>α</sub>}</span>
          </div>
        ))}
      </div>
    </div>
  );
}
